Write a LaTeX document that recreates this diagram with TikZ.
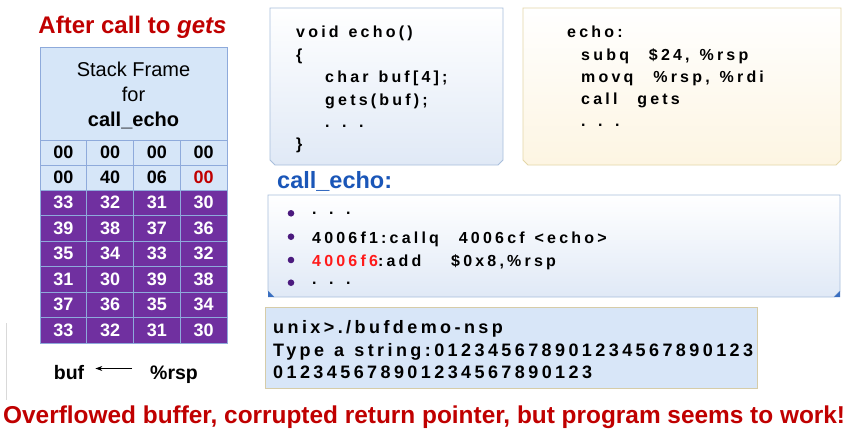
\documentclass[tikz,border=0pt]{standalone}
\usepackage{fontspec}
\setmainfont{Liberation Sans}
\newfontfamily\codefont[LetterSpace=20, WordSpace=1.3, UprightFont=* Bold]{Liberation Sans}
\newfontfamily\termfont[LetterSpace=19, WordSpace=1.2, UprightFont=* Bold]{Liberation Sans}
\usetikzlibrary{arrows.meta}
\definecolor{titlered}{HTML}{C00000}
\definecolor{hdrfill}{HTML}{D6E6F8}
\definecolor{gridcol}{HTML}{8EAADB}
\definecolor{stackpurple}{HTML}{7030A0}
\definecolor{boxline}{HTML}{A8BEDC}
\definecolor{boxblue}{HTML}{E0E9F6}
\definecolor{asmline}{HTML}{E4D7A8}
\definecolor{asmfill}{HTML}{FDF5E2}
\definecolor{echoblue}{HTML}{1A56B8}
\definecolor{termfill}{HTML}{D8E6F8}
\definecolor{termline}{HTML}{D6CCA8}
\definecolor{addrred}{HTML}{FF1A1A}
\definecolor{bulletpurple}{HTML}{4B1A7E}
\definecolor{cornerblue}{HTML}{3A6FC0}
\definecolor{bgtop}{HTML}{EEF4FA}
\definecolor{bgbot}{HTML}{D6E7F5}
\pgfdeclareverticalshading{bgshade}{100bp}{color(0bp)=(bgbot); color(20bp)=(white); color(92bp)=(white); color(100bp)=(bgtop)}
\tikzset{
  cell/.style={draw=gridcol, line width=0.6pt, minimum width=46.75pt, inner sep=0pt,
    font=\bfseries\fontsize{18}{18}\selectfont},
  lightcell/.style={cell, fill=hdrfill, text=black, minimum height=25pt},
  purplecell/.style={cell, fill=stackpurple, text=white, minimum height=25.5pt},
  codeline/.style={anchor=base west, inner sep=0pt, font=\codefont\fontsize{16}{16}\selectfont},
  termline/.style={anchor=base west, inner sep=0pt, font=\termfont\fontsize{18}{18}\selectfont},
  hdrtext/.style={anchor=base, inner sep=0pt, font=\fontsize{20}{20}\selectfont},
  bullet/.style={fill=bulletpurple},
}
\begin{document}
\begin{tikzpicture}[x=1pt,y=-1pt]
\useasboundingbox (0,0) rectangle (858,433);
\shade[shading=bgshade] (0,0) rectangle (858,433);
\draw[line width=0.8pt, color=black!15] (6,323) -- (6,400);

% title
\node[anchor=base, inner sep=0pt, text=titlered, font=\bfseries\fontsize{24}{24}\selectfont] (title) at (132.5,34) {After call to \textit{gets}};

% stack frame header
\node[draw=gridcol, line width=0.6pt, fill=hdrfill, anchor=north west, minimum width=187pt, minimum height=93pt, inner sep=0pt] (hdr) at (40,47) {};
\node[hdrtext] (hdr1) at (133.5,77) {Stack Frame};
\node[hdrtext] (hdr2) at (133.5,101.5) {for};
\node[hdrtext, font=\bfseries\fontsize{20}{20}\selectfont] (hdr3) at (133.5,126) {call\_echo};

% light rows
\foreach \v [count=\k] in {00,00,00,00}
  \node[lightcell] (c1\k) at ({40+46.75*(\k-0.5)},152.5) {\v};
\foreach \v [count=\k] in {00,40,06}
  \node[lightcell] (c2\k) at ({40+46.75*(\k-0.5)},177.5) {\v};
\node[lightcell, text=titlered] (c24) at ({40+46.75*3.5},177.5) {00};

% purple rows
\foreach \r/\y/\a/\b/\c/\d in {3/202.75/33/32/31/30, 4/228.25/39/38/37/36, 5/253.75/35/34/33/32,
    6/279.25/31/30/39/38, 7/304.75/37/36/35/34, 8/330.25/33/32/31/30}{
  \foreach \v [count=\k] in {\a,\b,\c,\d}
    \node[purplecell] (c\r\k) at ({40+46.75*(\k-0.5)},\y) {\v};
}
\draw[gridcol, line width=0.8pt] (hdr.north west) rectangle (c84.south east);

% buf <- %rsp
\node[anchor=base, inner sep=0pt, font=\bfseries\fontsize{19.5}{19.5}\selectfont] (buf) at (69,379) {buf};
\node[anchor=base west, inner sep=0pt, font=\bfseries\fontsize{19.5}{19.5}\selectfont] (rsp) at (150,379) {\%rsp};
\draw[-{Stealth[length=7pt,width=5pt]}, line width=1.7pt, shorten <=18pt, shorten >=11pt]
  ([yshift=10.5pt]rsp.base west) -- ([yshift=10.5pt]buf.base east);

% C code box
\path[draw=boxline, line width=0.8pt, top color=white, middle color=white, bottom color=boxblue]
  (270,8) -- (503,8) -- (503,160) -- (498,165) -- (275,165) -- (270,160) -- cycle;
\node[codeline] (v1) at (296,38) {void echo()};
\node[codeline] (v2) at (296,60.5) {\{};
\node[codeline] (v3) at (325,83) {char buf[4];};
\node[codeline] (v4) at (325,105.5) {gets(buf);};
\node[codeline] (v5) at (325,127) {. . .};
\node[codeline] (v6) at (296,149.5) {\}};

% asm box
\path[draw=asmline, line width=0.8pt, top color=white, bottom color=asmfill]
  (523,8) -- (841,8) -- (841,160) -- (836,165) -- (528,165) -- (523,160) -- cycle;
\node[codeline] (a1) at (567,38) {echo:};
\node[codeline] (a2) at (581,60.5) {subq\ \ \$24, \%rsp};
\node[codeline] (a3) at (581,82.5) {movq\ \ \%rsp, \%rdi};
\node[codeline] (a4) at (581,104.5) {call\ \ gets};
\node[codeline] (a5) at (581,126.5) {. . .};

% call_echo
\node[anchor=base west, inner sep=0pt, text=echoblue, font=\bfseries\fontsize{23.5}{23.5}\selectfont] (celab) at (277,188.5) {call\_echo:};
\path[draw=boxline, line width=0.8pt, top color=white, middle color=white, bottom color=boxblue]
  (268,195) -- (840,195) -- (840,291) -- (834,297) -- (274,297) -- (268,291) -- cycle;
\fill[cornerblue] (268,291) -- (274,297) -- (268,297) -- cycle;
\fill[cornerblue] (840,291) -- (840,297) -- (834,297) -- cycle;
\fill[bullet] (291,213.3) circle[radius=3.3pt];
\fill[bullet] (291,236.7) circle[radius=3.3pt];
\fill[bullet] (291,260) circle[radius=3.3pt];
\fill[bullet] (291,282.7) circle[radius=3.3pt];
\node[codeline] (e1) at (312,214.5) {. . .};
\node[codeline] (e2) at (312,243) {4006f1:callq\ \ 4006cf <echo>};
\node[codeline] (e3) at (312,266) {\textcolor{addrred}{4006f6}:add\ \ \ \$0x8,\%rsp};
\node[codeline] (e4) at (312,284) {. . .};

% terminal box
\path[draw=termline, line width=0.8pt, fill=termfill] (265,307) rectangle (757,388);
\node[termline] (t1) at (273,333.5) {unix>./bufdemo-nsp};
\node[termline] (t2) at (273,356) {Type a string:012345678901234567890123};
\node[termline] (t3) at (273,378.5) {012345678901234567890123};

% bottom message
\node[anchor=base west, inner sep=0pt, text=titlered, font=\bfseries\fontsize{24.4}{24.4}\selectfont] (msg) at (3,423) {Overflowed buffer, corrupted return pointer, but program seems to work!};
\end{tikzpicture}
\end{document}
